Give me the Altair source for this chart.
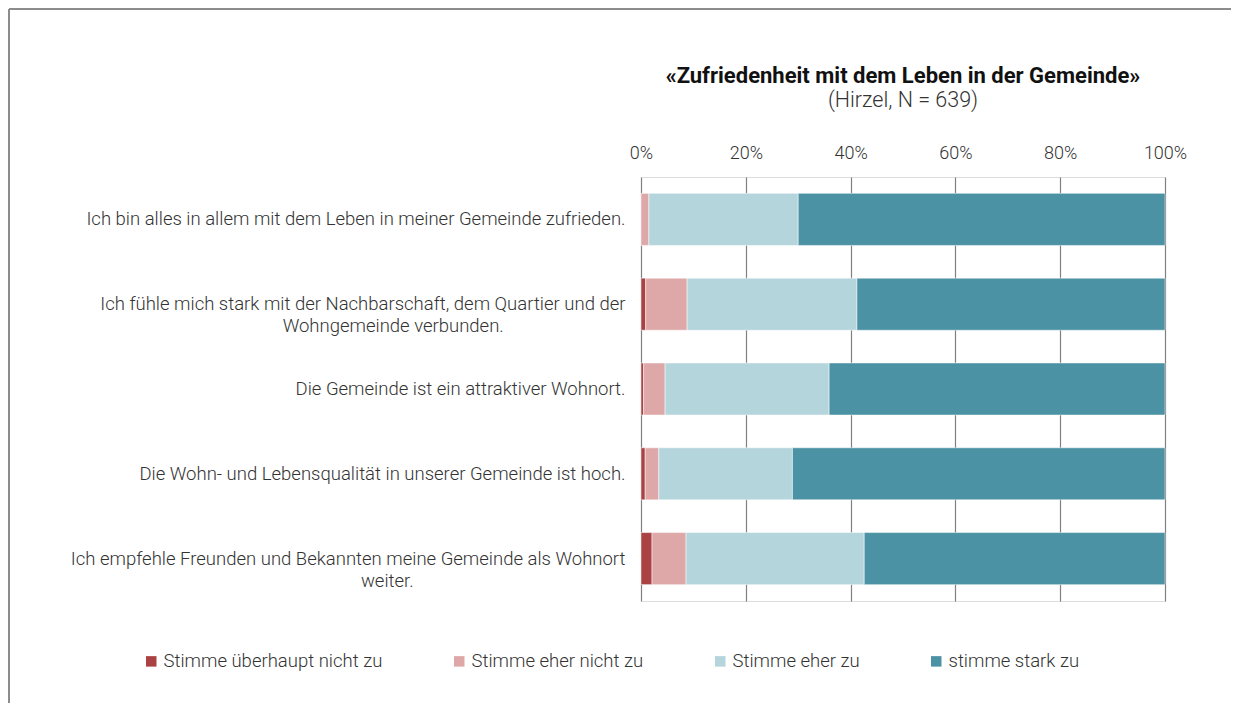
import altair as alt
import pandas as pd

# ---- data ----
statements = [
    "Ich bin alles in allem mit dem Leben in meiner Gemeinde zufrieden.",
    "Ich fühle mich stark mit der Nachbarschaft, dem Quartier und der|Wohngemeinde verbunden.",
    "Die Gemeinde ist ein attraktiver Wohnort.",
    "Die Wohn- und Lebensqualität in unserer Gemeinde ist hoch.",
    "Ich empfehle Freunden und Bekannten meine Gemeinde als Wohnort|weiter.",
]
series_names = [
    "Stimme überhaupt nicht zu",
    "Stimme eher nicht zu",
    "Stimme eher zu",
    "stimme stark zu",
]
s_ueberhaupt_nicht = [0.0, 0.9, 0.5, 0.8, 2.1]
s_eher_nicht = [1.5, 7.9, 4.1, 2.6, 6.5]
s_eher = [28.5, 32.4, 31.3, 25.5, 34.0]
s_stark = [70.0, 58.8, 64.1, 71.1, 57.4]
x_ticks = [0, 20, 40, 60, 80, 100]

colors = ["#AA4244", "#DEA8A8", "#B4D5DC", "#4B92A4"]

series_values = [s_ueberhaupt_nicht, s_eher_nicht, s_eher, s_stark]
rows = []
for si, (name, vals) in enumerate(zip(series_names, series_values)):
    for stmt, v in zip(statements, vals):
        rows.append({"statement": stmt, "series": name, "order": si, "value": v})
df = pd.DataFrame(rows)

FONT = "Roboto"

# wrapped labels: second line set roughly centred under the first line
# (trailing no-break spaces, closed by a zero-width space so they are not trimmed)
label_expr = (
    "length(split(datum.label, '|')) > 1 ? "
    "[split(datum.label, '|')[0], "
    "pad(split(datum.label, '|')[1], "
    "length(split(datum.label, '|')[1]) + floor(1.39 * (length(split(datum.label, '|')[0]) - length(split(datum.label, '|')[1])) - 29), "
    "'\u00a0', 'right') + '\u200b'] : datum.label"
)

bars = alt.Chart(df).mark_bar(stroke="white", strokeWidth=0.5).encode(
    x=alt.X(
        "value:Q",
        stack="zero",
        scale=alt.Scale(domain=[0, 100], nice=False),
        axis=alt.Axis(
            orient="top",
            values=x_ticks,
            labelExpr="datum.value + '%'",
            labelFlush=False,
            title=None,
            domain=False,
            ticks=False,
            tickSize=0,
            labelPadding=15,
            labelFontSize=18,
            labelFont=FONT,
            labelFontWeight=300,
            labelColor="#333333",
            grid=True,
            gridColor="#808080",
            gridWidth=1.2,
        ),
    ),
    y=alt.Y(
        "statement:N",
        sort=statements,
        scale=alt.Scale(paddingInner=0.386, paddingOuter=0.193),
        axis=alt.Axis(
            title=None,
            domain=False,
            ticks=False,
            tickSize=0,
            labelPadding=16,
            labelFontSize=18.5,
            labelFont=FONT,
            labelFontWeight=300,
            labelColor="#333333",
            labelLimit=700,
            labelLineHeight=22,
            labelExpr=label_expr,
        ),
    ),
    color=alt.Color(
        "series:N",
        sort=series_names,
        scale=alt.Scale(domain=series_names, range=colors),
        legend=alt.Legend(
            title=None,
            orient="none",
            legendX=-499,
            legendY=475,
            direction="horizontal",
            columns=4,
            columnPadding=67,
            symbolType="square",
            symbolSize=110,
            symbolStrokeWidth=0,
            labelFontSize=18.5,
            labelFont=FONT,
            labelFontWeight=300,
            labelColor="#333333",
            labelOffset=3,
            labelLimit=400,
        ),
    ),
    order=alt.Order("order:Q", sort="ascending"),
)

frame_df = pd.DataFrame({"k": [0]})
left_border = alt.Chart(frame_df).mark_rule(color="#8C8C8C", strokeWidth=2).encode(
    x=alt.value(-632), y=alt.value(-168), y2=alt.value(526)
)
top_border = alt.Chart(frame_df).mark_rule(color="#8C8C8C", strokeWidth=2).encode(
    x=alt.value(-632), x2=alt.value(590), y=alt.value(-168)
)

chart = alt.layer(left_border, top_border, bars).properties(
    width=524,
    height=424,
    padding=0,
    title=alt.TitleParams(
        text="«Zufriedenheit mit dem Leben in der Gemeinde»",
        subtitle="(Hirzel, N = 639)",
        anchor="middle",
        frame="group",
        font=FONT,
        fontSize=22,
        fontWeight="bold",
        color="#111111",
        subtitleFont=FONT,
        subtitleFontSize=21.5,
        subtitleFontWeight=300,
        subtitleColor="#333333",
        subtitlePadding=2,
        offset=-104,
    ),
).configure_view(stroke=None).configure(background="white")

chart.save("out.html", embed_options={"renderer": "svg", "actions": False})
